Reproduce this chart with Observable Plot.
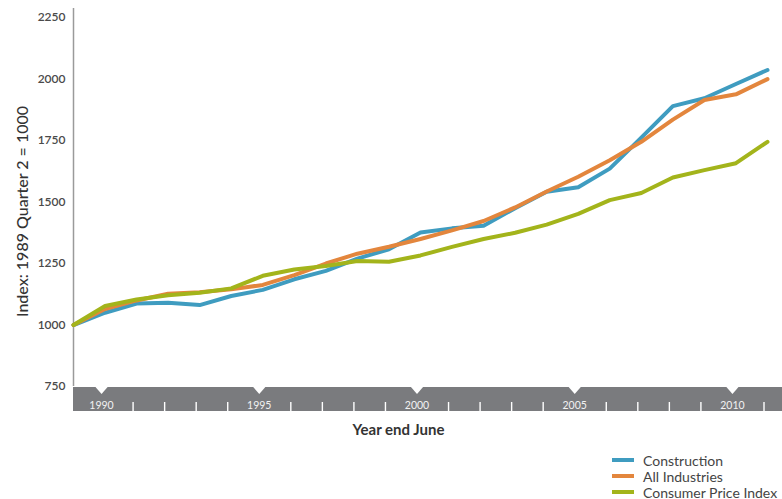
<!DOCTYPE html>
<html><head><meta charset="utf-8">
<script src="https://cdn.jsdelivr.net/npm/d3@7"></script>
<script src="https://cdn.jsdelivr.net/npm/@observablehq/plot@0.6"></script>
<style>
body{margin:0;background:#fff;font-family:Lato,"Noto Sans",sans-serif;}
#wrap{position:relative;width:782px;height:499px;overflow:hidden;}
#legend{position:absolute;left:612px;top:452px;}
.row{display:flex;align-items:center;height:16px;font-size:14px;color:#444;white-space:nowrap;}
.sw{width:22px;height:4px;margin-right:9px;}
</style></head><body>
<div id="wrap"><div id="chart"></div><div id="legend"></div></div>
<script>
const years = [1989,1990,1991,1992,1993,1994,1995,1996,1997,1998,1999,2000,2001,2002,2003,2004,2005,2006,2007,2008,2009,2010,2011];
const construction  = [1000,1050,1087,1091,1081,1118,1143,1186,1220,1270,1308,1376,1393,1404,1475,1542,1560,1636,1762,1890,1922,1980,2037];
const allIndustries = [1000,1065,1100,1127,1133,1145,1163,1203,1250,1290,1318,1350,1385,1423,1478,1543,1603,1670,1745,1835,1915,1938,2000];
const cpi           = [1000,1077,1104,1121,1131,1149,1200,1226,1240,1260,1257,1283,1318,1350,1375,1408,1452,1508,1537,1600,1630,1658,1745];
const seriesNames = ["Construction","All Industries","Consumer Price Index"];
const seriesColors = ["#3f9cc0","#e3863d","#a3b41b"];
const yTicks = [750,1000,1250,1500,1750,2000,2250];
const labelYears = [1990,1995,2000,2005,2010];
const minorYears = [1991,1992,1993,1994,1996,1997,1998,1999,2001,2002,2003,2004,2006,2007,2008,2009,2011];
const yTitle = "Index: 1989 Quarter 2 = 1000";
const xTitle = "Year end June";

const seriesValues = [construction, allIndustries, cpi];
const data = [];
seriesNames.forEach((name, s) => years.forEach((yr, i) => data.push({series: name, year: yr, value: seriesValues[s][i]})));

const bandShift = -3;
function bandMark(index, scales, values, dim) {
  const X = scales.x;
  const top = dim.height - dim.marginBottom + 1;
  const g = d3.create("svg:g");
  g.append("rect").attr("x", dim.marginLeft).attr("y", top)
    .attr("width", dim.width - dim.marginLeft).attr("height", 24).attr("fill", "#7a7b7e");
  minorYears.forEach(yr => {
    const x = X(yr) + bandShift;
    g.append("line").attr("x1", x).attr("x2", x).attr("y1", top + 15).attr("y2", top + 24)
      .attr("stroke", "#fff").attr("stroke-width", 1.4);
  });
  labelYears.forEach(yr => {
    const x = X(yr) + bandShift;
    g.append("path").attr("d", `M${x-6.5},${top-0.5}L${x+6.5},${top-0.5}L${x},${top+7}Z`).attr("fill", "#fff");
    g.append("text").attr("x", x).attr("y", top + 22).attr("text-anchor", "middle")
      .attr("font-size", 10.5).attr("fill", "#f2f2f2").attr("font-family", "Lato, sans-serif").text(yr);
  });
  return g.node();
}

const chart = Plot.plot({
  width: 782, height: 445,
  marginLeft: 73, marginRight: 15, marginTop: 8, marginBottom: 59,
  style: {fontFamily: "Lato, 'Noto Sans', sans-serif", background: "#fff"},
  x: {domain: [1989, 2011], axis: null},
  y: {domain: [750, 2287], axis: null},
  color: {domain: seriesNames, range: seriesColors},
  marks: [
    Plot.ruleX([1989], {stroke: "#9a9a9a", strokeWidth: 1.5}),
    Plot.axisY(yTicks, {tickSize: 0, tickPadding: 8, fontSize: 12, fontWeight: 600, fill: "#4a4a4a", label: null, tickFormat: d => String(d)}),
    bandMark,
    Plot.line(data, {x: "year", y: "value", z: "series", stroke: "series", strokeWidth: 4}),
    Plot.text([yTitle], {text: d => d, frameAnchor: "left", textAnchor: "middle", rotate: -90, dx: -51, dy: 14, fontSize: 16, fontWeight: 500, fill: "#333"}),
    Plot.text([xTitle], {text: d => d, frameAnchor: "bottom", textAnchor: "middle", dx: -22, dy: 48, fontSize: 15, fontWeight: 700, fill: "#333"})
  ]
});
document.getElementById("chart").appendChild(chart);

const legend = document.getElementById("legend");
seriesNames.forEach((name, i) => {
  const row = document.createElement("div");
  row.className = "row";
  const sw = document.createElement("span");
  sw.className = "sw";
  sw.style.background = seriesColors[i];
  const t = document.createElement("span");
  t.textContent = name;
  row.appendChild(sw); row.appendChild(t);
  legend.appendChild(row);
});
</script>
</body></html>
